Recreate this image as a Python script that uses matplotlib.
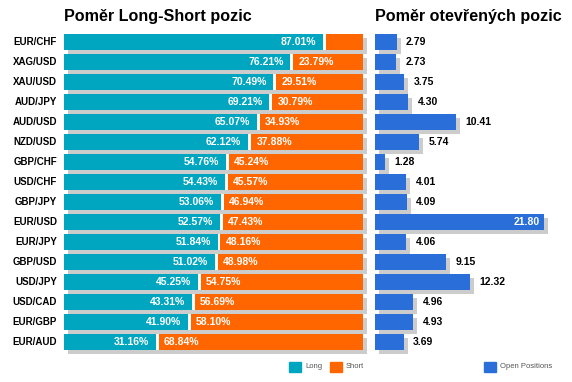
import matplotlib.pyplot as plt
from matplotlib.transforms import ScaledTranslation

pairs = ["EUR/CHF", "XAG/USD", "XAU/USD", "AUD/JPY", "AUD/USD", "NZD/USD",
         "GBP/CHF", "USD/CHF", "GBP/JPY", "EUR/USD", "EUR/JPY", "GBP/USD",
         "USD/JPY", "USD/CAD", "EUR/GBP", "EUR/AUD"]
long_pct = [87.01, 76.21, 70.49, 69.21, 65.07, 62.12, 54.76, 54.43,
            53.06, 52.57, 51.84, 51.02, 45.25, 43.31, 41.90, 31.16]
short_pct = [12.99, 23.79, 29.51, 30.79, 34.93, 37.88, 45.24, 45.57,
             46.94, 47.43, 48.16, 48.98, 54.75, 56.69, 58.10, 68.84]
open_pos = [2.79, 2.73, 3.75, 4.30, 10.41, 5.74, 1.28, 4.01,
            4.09, 21.80, 4.06, 9.15, 12.32, 4.96, 4.93, 3.69]

TEAL = "#00a5c0"
ORANGE = "#ff6600"
BLUE = "#2a6fd9"
SHADOW = "#cccccc"
FONT = "Liberation Sans"

W, H = 572, 382
fig = plt.figure(figsize=(W / 100, H / 100), dpi=100)


def px_axes(x0, x1, y0, y1):
    # axes placed in pixel coordinates, y measured from the top
    return fig.add_axes([x0 / W, 1 - y1 / H, (x1 - x0) / W, (y1 - y0) / H])


ax1 = px_axes(64, 363, 32, 352)
ax2 = px_axes(375, 565, 32, 352)

n = len(pairs)
rows = list(range(n))
bar_h = 0.8
shadow = ScaledTranslation(4 / 100, -3.5 / 100, fig.dpi_scale_trans)

for ax in (ax1, ax2):
    ax.set_ylim(n - 0.5, -0.5)
    ax.axis("off")

ax1.set_xlim(0, 100)
ax2.set_xlim(0, 190 / 7.75)

# left panel: long/short split
ax1.barh(rows, [100] * n, height=bar_h, color=SHADOW, zorder=1,
         transform=ax1.transData + shadow, clip_on=False)
ax1.barh(rows, [100] * n, height=bar_h, color="white", zorder=2)
ax1.barh(rows, [v - 0.5 for v in long_pct], height=bar_h, color=TEAL, zorder=3)
ax1.barh(rows, [v - 0.5 for v in short_pct], left=[v + 0.5 for v in long_pct],
         height=bar_h, color=ORANGE, zorder=3)

for i in rows:
    ax1.text(long_pct[i] - 2.8, i, f"{long_pct[i]:.2f}%", ha="right", va="center",
             color="white", fontsize=7.5, fontweight="bold", family=FONT, zorder=4)
    if short_pct[i] > 15:
        ax1.text(long_pct[i] + 2.2, i, f"{short_pct[i]:.2f}%", ha="left", va="center",
                 color="white", fontsize=7.5, fontweight="bold", family=FONT, zorder=4)
    ax1.text(-2.3, i, pairs[i], ha="right", va="center", color="black",
             fontsize=7, fontweight="bold", family=FONT)

# right panel: open positions
ax2.barh(rows, open_pos, height=bar_h, color=SHADOW, zorder=1,
         transform=ax2.transData + shadow, clip_on=False)
ax2.barh(rows, open_pos, height=bar_h, color=BLUE, zorder=2)
for i in rows:
    if open_pos[i] > 18:
        ax2.text(open_pos[i] - 0.6, i, f"{open_pos[i]:.2f}", ha="right", va="center",
                 color="white", fontsize=7.5, fontweight="bold", family=FONT, zorder=3)
    else:
        ax2.text(open_pos[i] + 1.2, i, f"{open_pos[i]:.2f}", ha="left", va="center",
                 color="black", fontsize=7.5, fontweight="bold", family=FONT)

# titles
fig.text(64 / W, 1 - 17 / H, "Poměr Long-Short pozic", ha="left", va="center",
         fontsize=11.6, fontweight="bold", family=FONT)
fig.text(375 / W, 1 - 17 / H, "Poměr otevřených pozic", ha="left", va="center",
         fontsize=11.6, fontweight="bold", family=FONT)

# legend
legend_items = [(289, TEAL, "Long"), (330, ORANGE, "Short"), (484, BLUE, "Open Positions")]
for x, color, label in legend_items:
    fig.patches.append(plt.Rectangle((x / W, 1 - 372 / H), 12 / W, 10 / H,
                                     color=color, transform=fig.transFigure))
    fig.text((x + 16) / W, 1 - 367 / H, label, ha="left", va="center",
             fontsize=5.5, color="#555555", family=FONT)

fig.savefig("out.png", dpi=100)
